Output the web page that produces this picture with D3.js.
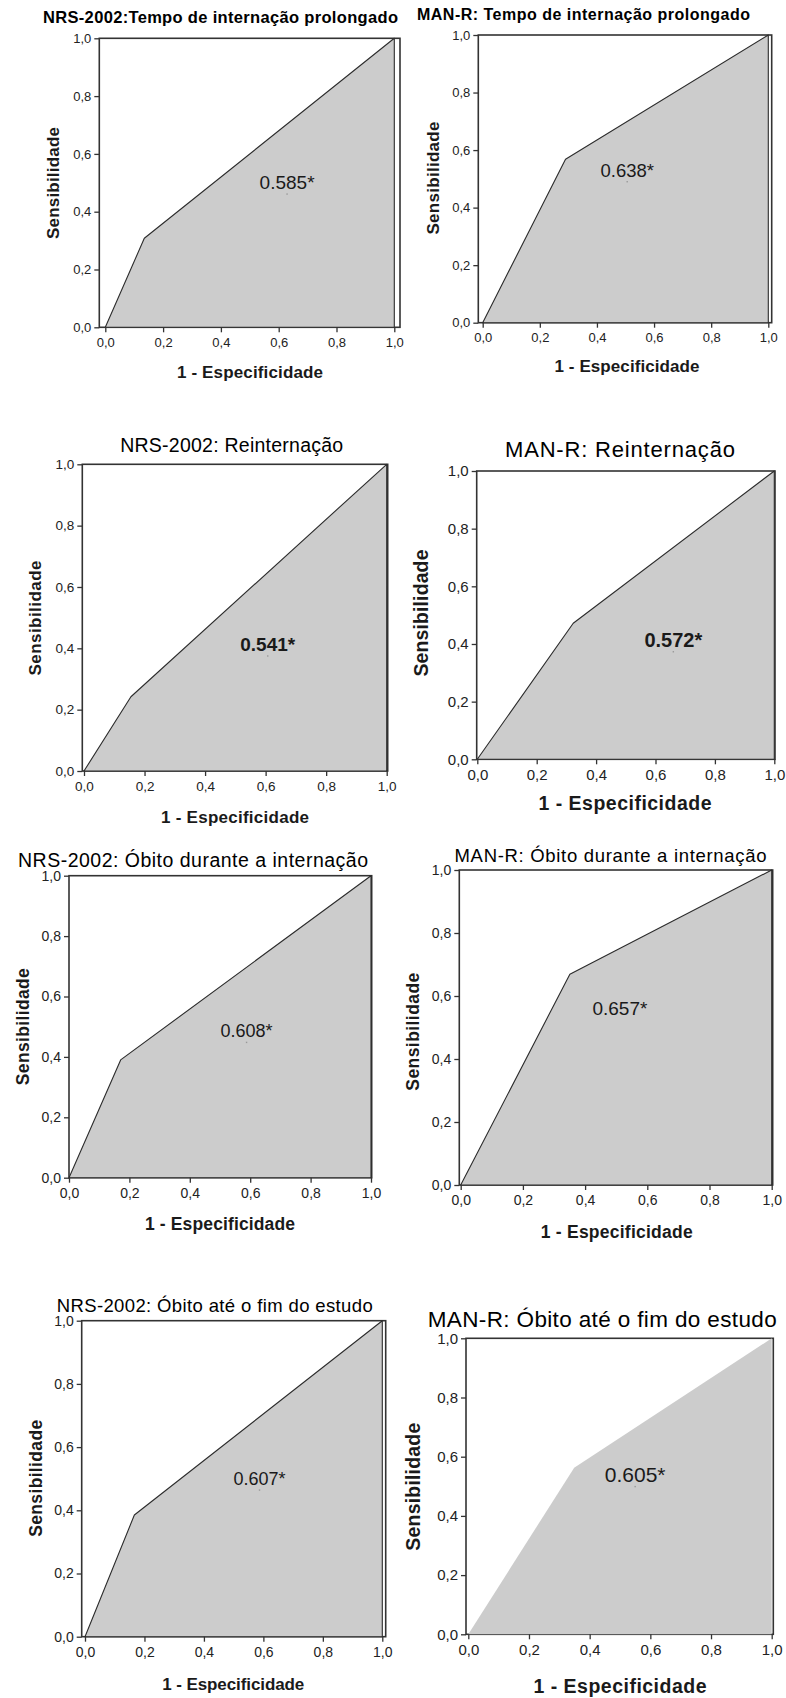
<!DOCTYPE html>
<html>
<head>
<meta charset="utf-8">
<script src="https://cdn.jsdelivr.net/npm/d3@7"></script>
<style>
  body { margin: 0; background: #fff; }
  svg { display: block; font-family: "Liberation Sans", Arial, sans-serif; }
</style>
</head>
<body>
<div id="roc"></div>
<script>
// the data, one entry per panel (left column NRS-2002, right column MAN-R)
const panelTitles = [
  "NRS-2002:Tempo de internação prolongado",
  "MAN-R: Tempo de internação prolongado",
  "NRS-2002: Reinternação",
  "MAN-R: Reinternação",
  "NRS-2002: Óbito durante a internação",
  "MAN-R: Óbito durante a internação",
  "NRS-2002: Óbito até o fim do estudo",
  "MAN-R: Óbito até o fim do estudo"
];
// the single cut point of each ROC curve
const knotFpr = [0.135, 0.290, 0.155, 0.323, 0.171, 0.351, 0.166, 0.349];
const knotTpr = [0.308, 0.568, 0.242, 0.472, 0.390, 0.669, 0.385, 0.563];
const aucValues = ["0.585", "0.638", "0.541", "0.572", "0.608", "0.657", "0.607", "0.605"];
const tickValues = [0, 0.2, 0.4, 0.6, 0.8, 1.0];
const xAxisTitle = "1 - Especificidade";
const yAxisTitle = "Sensibilidade";

// where each panel sits on the page (the panels were pasted in by hand, so they all differ a bit)
const layout = [
  {fl: 99.3, ft: 38.3, fr: 400, fb: 327.3, x0: 105.3, x1: 394.3, y0: 327.3, y1: 38.3,
   title: {cx: 220.5, by: 23, w: 355, size: 16.5, bold: true},
   ylab: {cx: 53, cy: 183, w: 112, size: 17}, xlab: {cx: 250, by: 378, w: 146, size: 17},
   tick: 13, auc: {ax: 0.629, ay: 0.461, size: 19, bold: false}, outline: true},
  {fl: 478.3, ft: 35, fr: 771.7, fb: 322.7, x0: 482.7, x1: 768.3, y0: 322.7, y1: 35,
   title: {cx: 583.5, by: 20, w: 333, size: 16, bold: true},
   ylab: {cx: 433, cy: 178, w: 113, size: 17}, xlab: {cx: 627, by: 372, w: 145, size: 17},
   tick: 13, auc: {ax: 0.506, ay: 0.49, size: 18.5, bold: false}, outline: true},
  {fl: 82.3, ft: 464.3, fr: 387.7, fb: 771, x0: 84, x1: 386.7, y0: 771, y1: 464.3,
   title: {cx: 231.7, by: 452.3, w: 223, size: 19.5, bold: false},
   ylab: {cx: 35, cy: 618, w: 115, size: 17}, xlab: {cx: 235, by: 823, w: 148, size: 17},
   tick: 13.5, auc: {ax: 0.607, ay: 0.375, size: 19, bold: true}, outline: true},
  {fl: 476.7, ft: 471, fr: 775, fb: 759.3, x0: 477.3, x1: 774.3, y0: 759.3, y1: 471,
   title: {cx: 620, by: 457.3, w: 230, size: 22, bold: false},
   ylab: {cx: 421, cy: 613, w: 127, size: 19.5}, xlab: {cx: 625, by: 810, w: 173, size: 19.5},
   tick: 15, auc: {ax: 0.66, ay: 0.373, size: 20, bold: true}, outline: true},
  {fl: 69, ft: 875.7, fr: 371.7, fb: 1177.7, x0: 69, x1: 371, y0: 1177.7, y1: 875.7,
   title: {cx: 193, by: 866.7, w: 350, size: 19.5, bold: false},
   ylab: {cx: 23, cy: 1026.7, w: 117, size: 17.5}, xlab: {cx: 220, by: 1230, w: 150, size: 17.5},
   tick: 14, auc: {ax: 0.588, ay: 0.448, size: 18, bold: false}, outline: true},
  {fl: 459.3, ft: 870, fr: 772.7, fb: 1185, x0: 460.7, x1: 771.7, y0: 1185, y1: 870,
   title: {cx: 610.5, by: 861.7, w: 312, size: 18.5, bold: false},
   ylab: {cx: 413, cy: 1031.7, w: 118, size: 17.5}, xlab: {cx: 616.7, by: 1238.3, w: 152, size: 17.5},
   tick: 14, auc: {ax: 0.512, ay: 0.524, size: 19, bold: false, noDot: true}, outline: true},
  {fl: 81.7, ft: 1320.7, fr: 385.7, fb: 1636.7, x0: 85, x1: 382.3, y0: 1636.7, y1: 1320.7,
   title: {cx: 214.7, by: 1311.7, w: 316, size: 18.5, bold: false},
   ylab: {cx: 36, cy: 1478.3, w: 117, size: 17.5}, xlab: {cx: 233.3, by: 1690, w: 142, size: 17},
   tick: 14, auc: {ax: 0.587, ay: 0.464, size: 18, bold: false}, outline: true},
  {fl: 466, ft: 1338.3, fr: 773.3, fb: 1634.3, x0: 468.3, x1: 771.7, y0: 1634.3, y1: 1338.3,
   title: {cx: 602.2, by: 1326.7, w: 349, size: 22.5, bold: false},
   ylab: {cx: 413.3, cy: 1486.7, w: 128, size: 19.5}, xlab: {cx: 620, by: 1693.3, w: 173, size: 19.5},
   tick: 15, auc: {ax: 0.55, ay: 0.499, size: 21, bold: false}, outline: false}
];

const width = 786;
const height = 1698;
const ink = "#1a1a1a";

// decimal comma like the original software
const fmt = d3.formatLocale({decimal: ",", thousands: ".", grouping: [3], currency: ["", ""]}).format(".1f");

const svg = d3.select("#roc")
  .append("svg")
    .attr("width", width)
    .attr("height", height)
    .attr("viewBox", [0, 0, width, height]);

svg.append("rect").attr("width", width).attr("height", height).attr("fill", "#fff");

panelTitles.forEach((title, i) => {
  const L = layout[i];
  const x = d3.scaleLinear().domain([0, 1]).range([L.x0, L.x1]);
  const y = d3.scaleLinear().domain([0, 1]).range([L.y0, L.y1]);
  const g = svg.append("g");

  // plot frame
  g.append("rect")
    .attr("x", L.fl)
    .attr("y", L.ft)
    .attr("width", L.fr - L.fl)
    .attr("height", L.fb - L.ft)
    .attr("fill", "#fff")
    .attr("stroke", "#333")
    .attr("stroke-width", 1.6);

  // area under the ROC curve
  const pts = [[0, 0], [knotFpr[i], knotTpr[i]], [1, 1], [1, 0]];
  const line = d3.line().x(d => x(d[0])).y(d => y(d[1]));
  g.append("path")
    .attr("d", line(pts) + "Z")
    .attr("fill", "#cccccc")
    .attr("stroke", L.outline ? "#2b2b2b" : "none")
    .attr("stroke-width", 1.1)
    .attr("stroke-linejoin", "round");

  // axes
  const yAxis = g.append("g")
    .attr("transform", `translate(${L.fl},0)`)
    .call(d3.axisLeft(y).tickValues(tickValues).tickSize(5).tickPadding(3).tickFormat(fmt));
  const xAxis = g.append("g")
    .attr("transform", `translate(0,${L.fb})`)
    .call(d3.axisBottom(x).tickValues(tickValues).tickSize(5).tickPadding(5).tickFormat(fmt));
  [yAxis, xAxis].forEach(a => {
    a.select(".domain").remove();
    a.selectAll(".tick line").attr("stroke", "#333").attr("stroke-width", 1.3);
    a.selectAll(".tick text")
      .attr("fill", "#222")
      .style("font-family", "'Liberation Sans', Arial, sans-serif")
      .style("font-size", L.tick + "px");
  });

  // AUC label
  if (!L.auc.noDot) {
    g.append("rect")
      .attr("x", x(L.auc.ax) - 0.7)
      .attr("y", y(L.auc.ay) - 0.7)
      .attr("width", 1.4)
      .attr("height", 1.4)
      .attr("fill", "#999");
  }
  g.append("text")
    .attr("x", x(L.auc.ax))
    .attr("y", y(L.auc.ay) - 5)
    .attr("text-anchor", "middle")
    .attr("fill", ink)
    .style("font-size", L.auc.size + "px")
    .style("font-weight", L.auc.bold ? "bold" : "normal")
    .text(aucValues[i] + "*");

  // titles
  g.append("text")
    .attr("x", L.title.cx)
    .attr("y", L.title.by)
    .attr("text-anchor", "middle")
    .attr("textLength", L.title.w)
    .attr("lengthAdjust", "spacing")
    .attr("fill", "#000")
    .style("font-size", L.title.size + "px")
    .style("font-weight", L.title.bold ? "bold" : "normal")
    .text(title);

  g.append("text")
    .attr("x", L.xlab.cx)
    .attr("y", L.xlab.by)
    .attr("text-anchor", "middle")
    .attr("textLength", L.xlab.w)
    .attr("lengthAdjust", "spacing")
    .attr("fill", ink)
    .style("font-size", L.xlab.size + "px")
    .style("font-weight", "bold")
    .text(xAxisTitle);

  g.append("text")
    .attr("transform", `translate(${L.ylab.cx},${L.ylab.cy}) rotate(-90)`)
    .attr("dy", "0.36em")
    .attr("text-anchor", "middle")
    .attr("textLength", L.ylab.w)
    .attr("lengthAdjust", "spacing")
    .attr("fill", ink)
    .style("font-size", L.ylab.size + "px")
    .style("font-weight", "bold")
    .text(yAxisTitle);
});
</script>
</body>
</html>
